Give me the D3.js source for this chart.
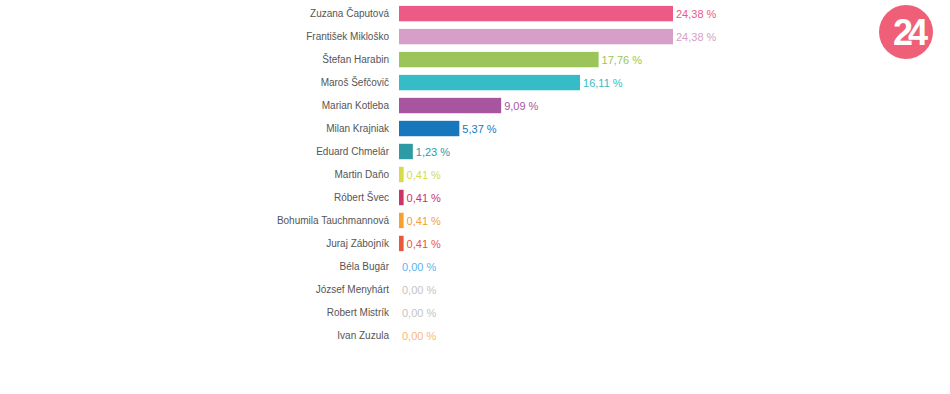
<!DOCTYPE html>
<html><head><meta charset="utf-8">
<script src="https://cdn.jsdelivr.net/npm/d3@7"></script>
<style>
html,body{margin:0;padding:0;background:#fff;}
svg{display:block;font-family:"Liberation Sans",Arial,sans-serif;}
</style></head>
<body>
<svg id="chart" width="950" height="394"></svg>
<script>
const candidates = ["Zuzana Čaputová","František Mikloško","Štefan Harabin","Maroš Šefčovič","Marian Kotleba","Milan Krajniak","Eduard Chmelár","Martin Daňo","Róbert Švec","Bohumila Tauchmannová","Juraj Zábojník","Béla Bugár","József Menyhárt","Robert Mistrík","Ivan Zuzula"];
const values = [24.38,24.38,17.76,16.11,9.09,5.37,1.23,0.41,0.41,0.41,0.41,0,0,0,0];
const colors = ["#ec5a85","#d69fc8","#9bc45a","#36bcc6","#a855a0","#1677bd","#2e9aa6","#d4dc4a","#cc3366","#f5a030","#e8583a","#5ab4ef","#c4c4c4","#c4c4c4","#f8b878"];

const svg = d3.select("#chart");
const x = d3.scaleLinear().domain([0,24.38]).range([399,673]);
const y = d3.scaleBand().domain(candidates).range([2,347]).paddingInner(0.33).paddingOuter(0.17);

const rows = svg.selectAll("g.row").data(candidates).join("g").attr("class","row");

rows.append("text")
  .attr("x",389).attr("y",d=>y(d)+y.bandwidth()/2)
  .attr("dy","0.35em").attr("text-anchor","end")
  .attr("font-size","10px").attr("fill","#555")
  .text(d=>d);

rows.append("rect")
  .attr("x",x(0)).attr("y",d=>y(d))
  .attr("width",(d,i)=>Math.max(0,x(values[i])-x(0)))
  .attr("height",y.bandwidth())
  .attr("fill",(d,i)=>colors[i])
  .attr("display",(d,i)=>values[i]>0?null:"none");

rows.append("text")
  .attr("x",(d,i)=>x(values[i])+3)
  .attr("y",d=>y(d)+y.bandwidth()/2)
  .attr("dy","0.4em")
  .attr("font-size","11px").attr("fill",(d,i)=>colors[i])
  .text((d,i)=>d3.format(".2f")(values[i]).replace(".",",")+" %");

// logo
const logo = svg.append("g").attr("transform","translate(906,32)");
logo.append("circle").attr("r",27).attr("fill","#ef5f77");
logo.append("text").attr("text-anchor","middle").attr("dy","0.36em").attr("x",2)
  .attr("font-size","36px").attr("font-weight","bold").attr("fill","#fff")
  .attr("letter-spacing","-5px").text("24");
</script>
</body></html>
